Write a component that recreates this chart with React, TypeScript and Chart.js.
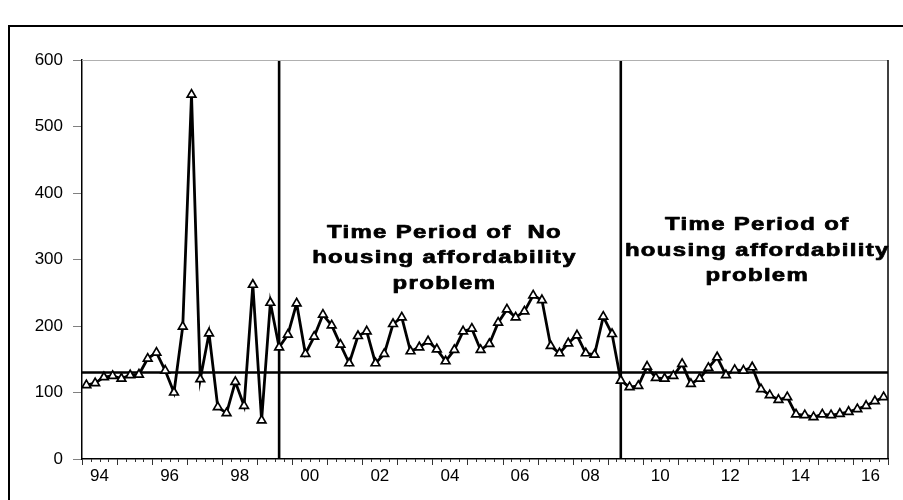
import React, { useEffect, useRef } from 'react';
import { Chart, registerables } from 'chart.js';

Chart.register(...registerables);

// Quarterly observations, 1994Q1 .. 2016Q4
const years = [1994, 1995, 1996, 1997, 1998, 1999, 2000, 2001, 2002, 2003, 2004, 2005,
  2006, 2007, 2008, 2009, 2010, 2011, 2012, 2013, 2014, 2015, 2016];
const quarterNames = ['Q1', 'Q2', 'Q3', 'Q4'];
const periods: string[] = years.flatMap((y) => quarterNames.map((q) => `${y}${q}`));

const values = [
  111, 114, 123, 125, // 1994
  121, 126, 127, 151, // 1995
  160, 133, 100, 199, // 1996
  548, 120, 189, 78,  // 1997
  69, 116, 80, 262,   // 1998
  58, 235, 168, 187,  // 1999
  234, 158, 184, 217, // 2000
  201, 172, 144, 185, // 2001
  192, 144, 158, 203, // 2002
  213, 162, 168, 177, // 2003
  165, 147, 164, 192, // 2004
  196, 164, 173, 205, // 2005
  225, 213, 222, 246, // 2006
  239, 170, 159, 174, // 2007
  186, 159, 157, 214, // 2008
  188, 118, 108, 110, // 2009
  139, 122, 121, 125, // 2010
  143, 113, 121, 137, // 2011
  153, 126, 134, 133, // 2012
  138, 105, 96, 89,   // 2013
  93, 67, 66, 63,     // 2014
  67, 66, 68, 71,     // 2015
  75, 80, 87, 93,     // 2016
];

const xTickYears = [1994, 1996, 1998, 2000, 2002, 2004, 2006, 2008, 2010, 2012, 2014, 2016];
const xTickLabels = ['94', '96', '98', '00', '02', '04', '06', '08', '10', '12', '14', '16'];
const yTicks = [0, 100, 200, 300, 400, 500, 600];

const referenceLevel = 130;
const breakPeriods = ['1999Q3', '2009Q2'];

const annotationBlocks = [
  { lines: ['Time Period of  No', 'housing affordability', 'problem'], centerX: 41.3, baselines: [333, 295, 256] },
  { lines: ['Time Period of', 'housing affordability', 'problem'], centerX: 77.0, baselines: [345, 305, 267] },
];

const FONT = '"Liberation Sans", Arial, Helvetica, sans-serif';

export default function App() {
  const canvasRef = useRef<HTMLCanvasElement | null>(null);

  useEffect(() => {
    if (!canvasRef.current) return;
    const nQ = periods.length;
    const idx = (p: string) => periods.indexOf(p) + 0.5;

    const decorPlugin = {
      id: 'decor',
      afterDatasetsDraw(chart: any) {
        const { ctx, scales } = chart;
        const xs = scales.x;
        const ys = scales.y;
        ctx.save();
        ctx.fillStyle = '#000';
        ctx.strokeStyle = '#000';
        ctx.lineWidth = 0.7;
        ctx.lineJoin = 'round';
        ctx.font = `bold 18px ${FONT}`;
        ctx.textAlign = 'center';
        ctx.textBaseline = 'alphabetic';
        try { (ctx as any).letterSpacing = '1px'; } catch (e) { /* ignore */ }
        annotationBlocks.forEach((b) => {
          const cx = xs.getPixelForValue(b.centerX);
          b.lines.forEach((line, i) => {
            const by = ys.getPixelForValue(b.baselines[i]);
            ctx.save();
            ctx.translate(cx, by);
            ctx.scale(1.33, 1);
            ctx.fillText(line, 0.5, 0);
            ctx.strokeText(line, 0.5, 0);
            ctx.restore();
          });
        });
        try { (ctx as any).letterSpacing = '0px'; } catch (e) { /* ignore */ }
        ctx.restore();
      },
      afterDraw(chart: any) {
        const { ctx, chartArea, scales } = chart;
        const xs = scales.x;
        ctx.save();
        ctx.strokeStyle = '#b0b0b0';
        ctx.lineWidth = 1;
        ctx.beginPath();
        ctx.moveTo(chartArea.left, chartArea.top + 0.5);
        ctx.lineTo(chartArea.right, chartArea.top + 0.5);
        ctx.stroke();
        ctx.strokeStyle = '#000';
        ctx.lineWidth = 1.5;
        ctx.beginPath();
        ctx.moveTo(chartArea.right, chartArea.top);
        ctx.lineTo(chartArea.right, chartArea.bottom);
        ctx.stroke();
        ctx.strokeStyle = '#333';
        ctx.lineWidth = 1;
        for (let q = 0; q <= nQ; q++) {
          const px = Math.round(xs.getPixelForValue(q)) + 0.5;
          const len = q % 4 === 0 ? 6 : 3;
          ctx.beginPath();
          ctx.moveTo(px, chartArea.bottom);
          ctx.lineTo(px, chartArea.bottom + len);
          ctx.stroke();
        }
        ctx.restore();
      },
    };

    const chart = new Chart(canvasRef.current, {
      type: 'scatter',
      data: {
        datasets: [
          {
            label: 'series',
            data: values.map((v, i) => ({ x: i + 0.5, y: v })),
            showLine: true,
            borderColor: '#000',
            borderWidth: 2.8,
            tension: 0,
            pointStyle: 'triangle',
            pointRadius: 5,
            pointBackgroundColor: '#fff',
            pointBorderColor: '#000',
            pointBorderWidth: 1.7,
            order: 0,
          },
          {
            label: 'level',
            data: [{ x: 0, y: referenceLevel }, { x: nQ, y: referenceLevel }],
            showLine: true,
            borderColor: '#000',
            borderWidth: 2.4,
            pointRadius: 0,
            order: 1,
          },
          ...breakPeriods.map((p) => ({
            label: p,
            data: [{ x: idx(p), y: 0 }, { x: idx(p), y: 600 }],
            showLine: true,
            borderColor: '#000',
            borderWidth: 2.6,
            pointRadius: 0,
            order: 1,
          })),
        ],
      },
      options: {
        animation: false,
        responsive: false,
        maintainAspectRatio: false,
        devicePixelRatio: 1,
        layout: { padding: { left: 0, right: 15, top: 60, bottom: 0 } },
        plugins: { legend: { display: false }, tooltip: { enabled: false } },
        scales: {
          x: {
            type: 'linear',
            position: 'bottom',
            min: 0,
            max: nQ,
            grid: { display: false, drawTicks: false, tickLength: 0 },
            border: { display: true, color: '#000', width: 1.5 },
            afterBuildTicks: (scale: any) => {
              scale.ticks = xTickYears.map((y) => ({ value: (y - years[0]) * 4 + 2 }));
            },
            afterFit: (scale: any) => { scale.height = 41; },
            ticks: {
              autoSkip: false,
              maxRotation: 0,
              minRotation: 0,
              padding: 7,
              color: '#000',
              font: { family: FONT, size: 17 },
              callback: (v: any) => {
                const k = xTickYears.findIndex((y) => (y - years[0]) * 4 + 2 === v);
                return k >= 0 ? xTickLabels[k] : '';
              },
            },
          },
          y: {
            min: 0,
            max: 600,
            grid: { display: true, drawOnChartArea: false, drawTicks: true, tickLength: 9, color: '#808080' },
            border: { display: true, color: '#000', width: 1.5 },
            afterBuildTicks: (scale: any) => {
              scale.ticks = yTicks.map((v) => ({ value: v }));
            },
            afterFit: (scale: any) => { scale.width = 82; },
            ticks: {
              padding: 10,
              color: '#000',
              font: { family: FONT, size: 17 },
            },
          },
        },
      },
      plugins: [decorPlugin],
    } as any);

    return () => chart.destroy();
  }, []);

  return (
    <div style={{ position: 'fixed', left: 0, top: 0, width: 903, height: 500, background: '#fff', overflow: 'hidden' }}>
      <div style={{ position: 'absolute', left: 8, top: 25, width: 895, height: 475, borderTop: '2px solid #000', borderLeft: '2px solid #000', boxSizing: 'border-box' }} />
      <canvas ref={canvasRef} width={903} height={500} style={{ position: 'absolute', left: 0, top: 0, display: 'block' }} />
    </div>
  );
}
